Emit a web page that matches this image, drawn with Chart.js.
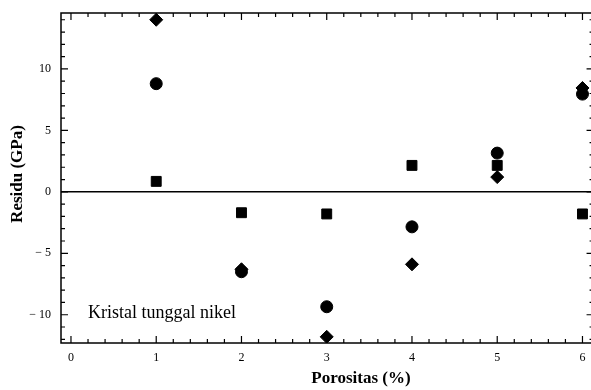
<!DOCTYPE html>
<html>
<head>
<meta charset="utf-8">
<script src="https://cdn.jsdelivr.net/npm/chart.js@4/dist/chart.umd.min.js"></script>
<style>
  html, body { margin: 0; padding: 0; background: #fff; }
  #wrap { width: 591px; height: 390px; }
</style>
</head>
<body>
<div id="wrap"><canvas id="chart" width="591" height="390"></canvas></div>
<script>
const porosity = [1, 2, 3, 4, 5, 6];
const circleResidu = [8.8, -6.5, -9.35, -2.85, 3.15, 7.95];
const squareResidu = [0.85, -1.7, -1.8, 2.15, 2.15, -1.8];
const diamondResidu = [14.0, -6.3, -11.8, -5.9, 1.2, 8.45];
const xTicks = [0, 1, 2, 3, 4, 5, 6];
const yTicks = [-10, -5, 0, 5, 10];
const annotation = 'Kristal tunggal nikel';
// the right frame of the original sits just past the cropped edge
const xFrameMax = 6.13;

const serif = '"Liberation Serif", "DejaVu Serif", serif';

function toPoints(values) {
    return porosity.map((x, i) => ({ x: x, y: values[i] }));
}

function noScalePadding(scale) {
    scale.paddingTop = 0;
    scale.paddingBottom = 0;
    scale.paddingLeft = 0;
    scale.paddingRight = 0;
}

// frame, zero line, inward ticks, titles and note
const framePlugin = {
    id: 'framePlugin',
    afterDatasetsDraw(chart) {
        const { ctx, chartArea: a, scales } = chart;
        const xs = scales.x, ys = scales.y;
        const right = xs.getPixelForValue(xFrameMax);
        ctx.save();
        ctx.strokeStyle = '#000';
        ctx.lineWidth = 1.5;
        ctx.strokeRect(a.left, a.top, right - a.left, a.bottom - a.top);

        const y0 = ys.getPixelForValue(0);
        ctx.beginPath();
        ctx.moveTo(a.left, y0);
        ctx.lineTo(right, y0);
        ctx.stroke();

        ctx.lineWidth = 1.2;
        ctx.beginPath();
        for (let i = 0; i <= 30; i++) {
            const v = i / 5;
            const px = xs.getPixelForValue(v);
            const len = i % 5 === 0 ? 7 : 4;
            ctx.moveTo(px, a.bottom);
            ctx.lineTo(px, a.bottom - len);
            ctx.moveTo(px, a.top);
            ctx.lineTo(px, a.top + len);
        }
        for (let v = -12; v <= 14; v++) {
            const py = ys.getPixelForValue(v);
            const len = v % 5 === 0 ? 7 : 4;
            ctx.moveTo(a.left, py);
            ctx.lineTo(a.left + len, py);
            ctx.moveTo(right, py);
            ctx.lineTo(right - len, py);
        }
        ctx.stroke();

        ctx.fillStyle = '#000';
        ctx.font = '18px ' + serif;
        ctx.textAlign = 'left';
        ctx.textBaseline = 'middle';
        ctx.fillText(annotation, xs.getPixelForValue(0.2), ys.getPixelForValue(-9.9));

        ctx.font = 'bold 17px ' + serif;
        ctx.textAlign = 'center';
        ctx.fillText('Porositas (%)', 361, 379);

        ctx.translate(18, 174);
        ctx.rotate(-Math.PI / 2);
        ctx.fillText('Residu (GPa)', 0, 0);
        ctx.restore();
    }
};

new Chart(document.getElementById('chart'), {
    type: 'scatter',
    data: {
        datasets: [
            {
                label: 'circle',
                data: toPoints(circleResidu),
                pointStyle: 'circle',
                pointRadius: 6,
                backgroundColor: '#000',
                borderColor: '#000'
            },
            {
                label: 'square',
                data: toPoints(squareResidu),
                pointStyle: 'rect',
                pointRadius: 7,
                backgroundColor: '#000',
                borderColor: '#000'
            },
            {
                label: 'diamond',
                data: toPoints(diamondResidu),
                pointStyle: 'rectRot',
                pointRadius: 6.5,
                backgroundColor: '#000',
                borderColor: '#000'
            }
        ]
    },
    options: {
        responsive: false,
        animation: false,
        events: [],
        layout: { autoPadding: false, padding: { top: 13, right: 0, left: 0, bottom: 0 } },
        plugins: {
            legend: { display: false },
            tooltip: { enabled: false }
        },
        scales: {
            x: {
                type: 'linear',
                min: -0.117,
                max: 6.1,
                afterBuildTicks: (scale) => { scale.ticks = xTicks.map(v => ({ value: v })); },
                afterFit: (scale) => { scale.height = 47; noScalePadding(scale); },
                grid: { display: false, drawTicks: false },
                border: { display: false },
                ticks: {
                    color: '#000',
                    padding: 8,
                    maxRotation: 0,
                    font: { family: serif, size: 12 }
                }
            },
            y: {
                type: 'linear',
                min: -12.3,
                max: 14.55,
                afterBuildTicks: (scale) => { scale.ticks = yTicks.map(v => ({ value: v })); },
                afterFit: (scale) => { scale.width = 61; noScalePadding(scale); },
                grid: { display: false, drawTicks: false },
                border: { display: false },
                ticks: {
                    color: '#000',
                    padding: 10,
                    font: { family: serif, size: 12 },
                    callback: (v) => v < 0 ? '\u2212 ' + Math.abs(v) : String(v)
                }
            }
        }
    },
    plugins: [framePlugin]
});
</script>
</body>
</html>
